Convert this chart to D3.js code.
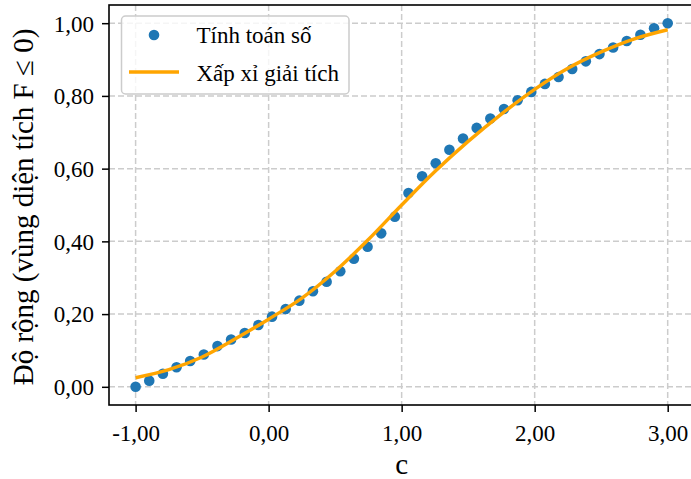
<!DOCTYPE html>
<html>
<head>
<meta charset="utf-8">
<script src="https://cdn.jsdelivr.net/npm/d3@7"></script>
<style>
  html, body { margin: 0; padding: 0; background: #fff; }
  svg { display: block; }
  text { font-family: "Liberation Serif", "DejaVu Serif", serif; fill: #000; }
</style>
</head>
<body>
<svg id="chart" width="691" height="479"></svg>
<script>
// ---- data ----
const numX = [-1.0000, -0.8974, -0.7949, -0.6923, -0.5897, -0.4872, -0.3846, -0.2821, -0.1795, -0.0769,
              0.0256, 0.1282, 0.2308, 0.3333, 0.4359, 0.5385, 0.6410, 0.7436, 0.8462, 0.9487,
              1.0513, 1.1538, 1.2564, 1.3590, 1.4615, 1.5641, 1.6667, 1.7692, 1.8718, 1.9744,
              2.0769, 2.1795, 2.2821, 2.3846, 2.4872, 2.5897, 2.6923, 2.7949, 2.8974, 3.0000];
const numY = [0.000, 0.017, 0.036, 0.054, 0.071, 0.089, 0.112, 0.130, 0.148, 0.170,
              0.193, 0.214, 0.237, 0.263, 0.289, 0.318, 0.352, 0.385, 0.422, 0.468,
              0.533, 0.579, 0.615, 0.652, 0.683, 0.712, 0.738, 0.764, 0.788, 0.811,
              0.833, 0.852, 0.874, 0.895, 0.915, 0.933, 0.951, 0.968, 0.986, 1.000];
const approxX = [-1.00, -0.75, -0.50, -0.25, 0.00, 0.25, 0.50, 0.75, 1.00, 1.25,
                 1.50, 1.75, 2.00, 2.25, 2.50, 2.75, 3.00];
const approxY = [0.025, 0.047, 0.082, 0.132, 0.186, 0.244, 0.318, 0.405, 0.500, 0.592,
                 0.675, 0.750, 0.818, 0.876, 0.921, 0.957, 0.982];
const xTicks = [-1, 0, 1, 2, 3];
const yTicks = [0, 0.2, 0.4, 0.6, 0.8, 1.0];
const legendLabels = ["Tính toán số", "Xấp xỉ giải tích"];
const xLabel = "c";
const yLabel = "Độ rộng (vùng diện tích F ≤ 0)";

// ---- setup ----
const svg = d3.select("#chart");
const pL = 109, pR = 694.3, pT = 5, pB = 405;
const x = d3.scaleLinear().domain([-1.2, 3.2]).range([pL, pR]);
const y = d3.scaleLinear().domain([-0.05, 1.05]).range([pB, pT]);
const fmt = d => d3.format(".2f")(d).replace(".", ",").replace("−", "-");

// grid
const grid = svg.append("g");
grid.selectAll(".gx").data(xTicks).enter().append("line")
  .attr("x1", d => x(d)).attr("x2", d => x(d)).attr("y1", pT).attr("y2", pB)
  .attr("stroke", "#cccccc").attr("stroke-width", 1.5).attr("stroke-dasharray", "6,3");
grid.selectAll(".gy").data(yTicks).enter().append("line")
  .attr("x1", pL).attr("x2", pR).attr("y1", d => y(d)).attr("y2", d => y(d))
  .attr("stroke", "#cccccc").attr("stroke-width", 1.5).attr("stroke-dasharray", "6,3");

// data: scatter
svg.append("g").selectAll("circle").data(numX).enter().append("circle")
  .attr("cx", (d) => x(d)).attr("cy", (d, i) => y(numY[i])).attr("r", 5.3)
  .attr("fill", "#1f77b4");

// approximation line
const line = d3.line().x((d) => x(d)).y((d, i) => y(approxY[i])).curve(d3.curveCatmullRom);
svg.append("path").datum(approxX).attr("d", line)
  .attr("fill", "none").attr("stroke", "#ffa500").attr("stroke-width", 3.4)
  .attr("stroke-linecap", "butt");

// axes
const xAxis = d3.axisBottom(x).tickValues(xTicks).tickFormat(fmt).tickSize(7).tickPadding(8);
const yAxis = d3.axisLeft(y).tickValues(yTicks).tickFormat(fmt).tickSize(7).tickPadding(8);
const gx = svg.append("g").attr("transform", `translate(0,${pB})`).call(xAxis);
const gy = svg.append("g").attr("transform", `translate(${pL},0)`).call(yAxis);
[gx, gy].forEach(g => {
  g.select(".domain").remove();
  g.selectAll(".tick line").attr("stroke", "#000").attr("stroke-width", 1.5);
  g.selectAll(".tick text").attr("font-size", 23).attr("font-family", "Liberation Serif").attr("fill", "#000");
});
gy.selectAll(".tick text").attr("dy", "0.34em");
gx.selectAll(".tick text").attr("dy", "0.9em");

// spines
svg.append("rect").attr("x", pL).attr("y", pT).attr("width", pR - pL).attr("height", pB - pT)
  .attr("fill", "none").attr("stroke", "#000").attr("stroke-width", 1.6);

// labels
svg.append("text").attr("x", x(1)).attr("y", 474).attr("text-anchor", "middle")
  .attr("font-size", 29).text(xLabel);
svg.append("text").attr("transform", `translate(33,${(pT + pB) / 2 + 2}) rotate(-90)`)
  .attr("text-anchor", "middle").attr("font-size", 29).text(yLabel);

// legend
const lg = svg.append("g");
lg.append("rect").attr("x", 121.5).attr("y", 16).attr("width", 227.5).attr("height", 78)
  .attr("rx", 4).attr("fill", "#fff").attr("fill-opacity", 0.8)
  .attr("stroke", "#cccccc").attr("stroke-width", 1.5);
lg.append("circle").attr("cx", 154).attr("cy", 35).attr("r", 5.3).attr("fill", "#1f77b4");
lg.append("line").attr("x1", 129).attr("x2", 179).attr("y1", 72).attr("y2", 72)
  .attr("stroke", "#ffa500").attr("stroke-width", 3.4);
lg.selectAll("text.lt").data(legendLabels).enter().append("text")
  .attr("x", 196.5).attr("y", (d, i) => 43 + i * 37.5).attr("font-size", 23).text(d => d);
</script>
</body>
</html>
